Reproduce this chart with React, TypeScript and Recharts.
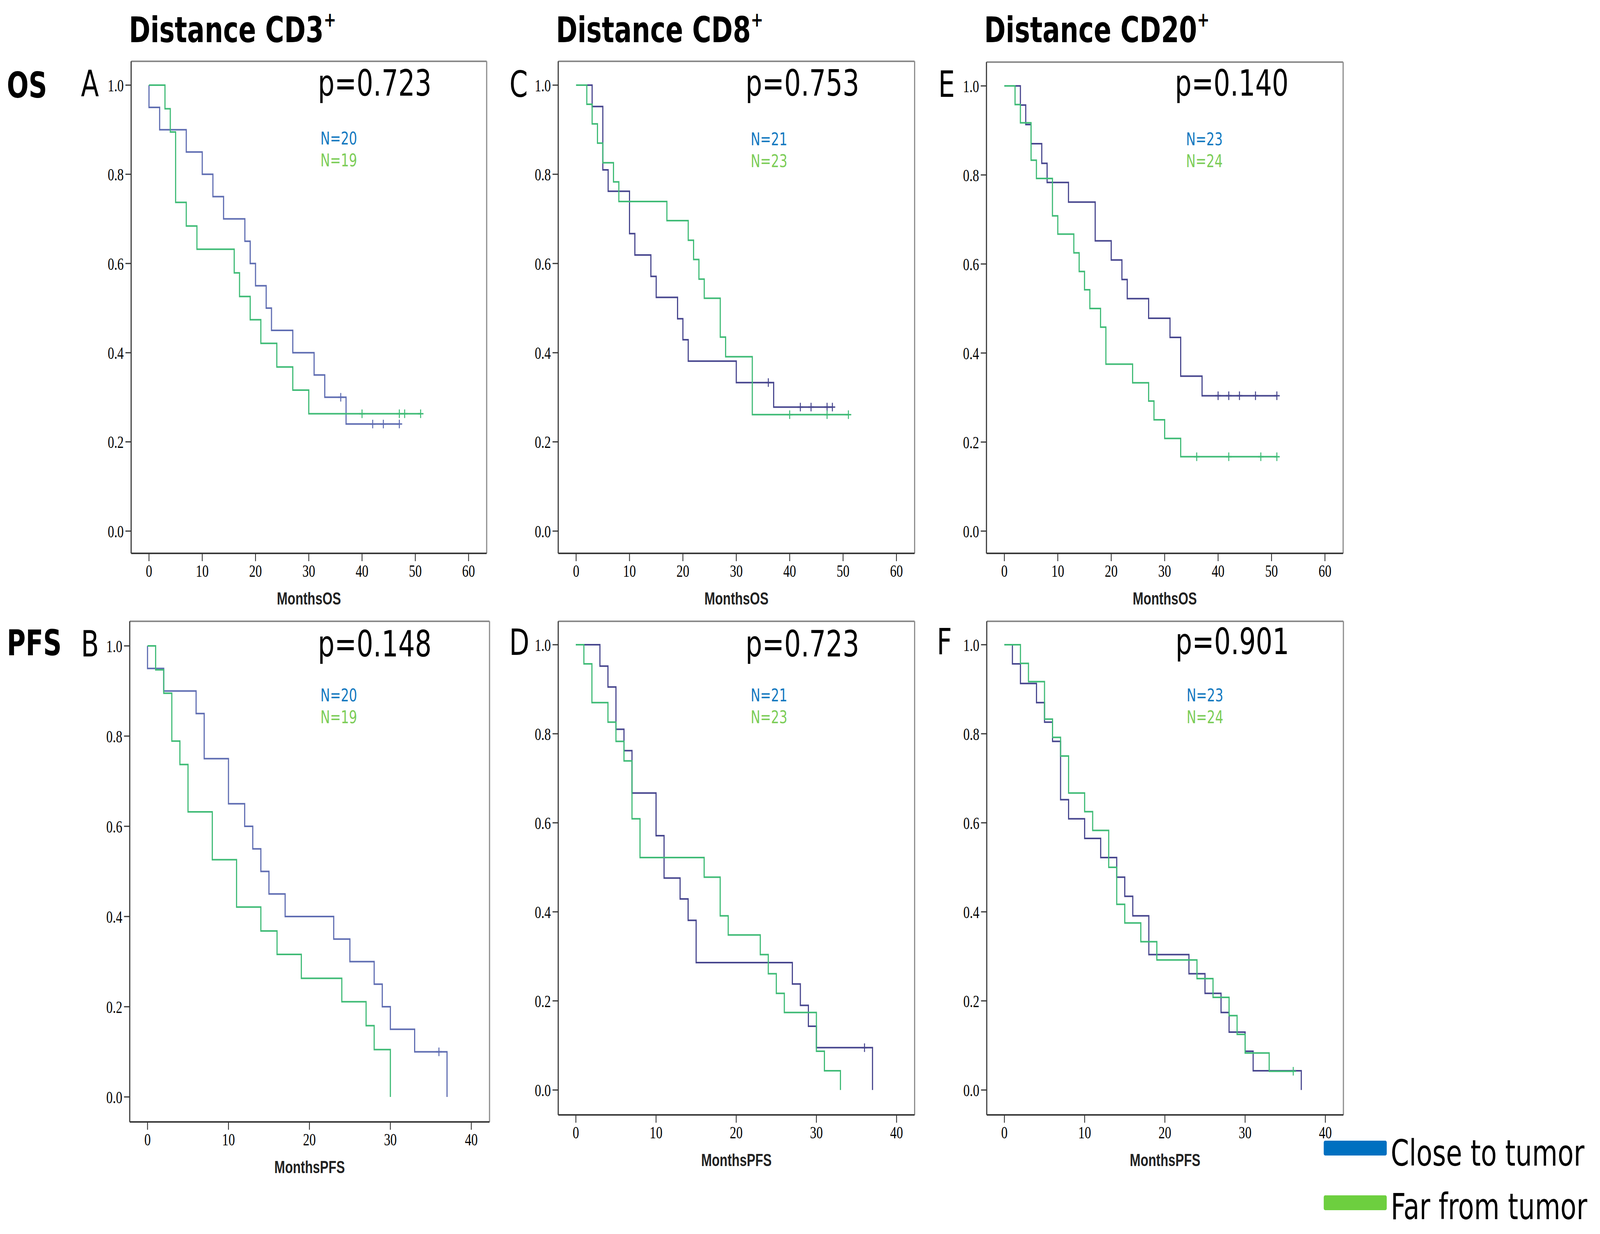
import { ComposedChart, Line, Scatter, XAxis, YAxis, ReferenceLine } from "recharts"

const CLOSE_LIGHT = "#5f6db2"
const CLOSE = "#47468e"
const FAR = "#3fbb76"

// A: OS, CD3+
const aCloseTimes = [0, 0, 2, 7, 10, 12, 14, 18, 19, 20, 22, 23, 27, 31, 33, 37]
const aCloseSurv = [1, 0.95, 0.9, 0.85, 0.8, 0.75, 0.7, 0.65, 0.6, 0.55, 0.5, 0.45, 0.4, 0.35, 0.3, 0.24]
const aCloseCens = [36, 42, 44, 47]
const aFarTimes = [0, 3, 4, 5, 7, 9, 16, 17, 19, 21, 24, 27, 30]
const aFarSurv = [1, 0.947, 0.895, 0.737, 0.684, 0.632, 0.579, 0.526, 0.474, 0.421, 0.368, 0.316, 0.263]
const aFarCens = [40, 47, 48, 51]

// C: OS, CD8+
const cCloseTimes = [0, 3, 5, 6, 10, 11, 14, 15, 19, 20, 21, 30, 37]
const cCloseSurv = [1, 0.952, 0.81, 0.762, 0.667, 0.619, 0.571, 0.524, 0.476, 0.429, 0.381, 0.333, 0.278]
const cCloseCens = [36, 42, 44, 47, 48]
const cFarTimes = [0, 2, 3, 4, 5, 7, 8, 17, 21, 22, 23, 24, 27, 28, 33]
const cFarSurv = [1, 0.957, 0.913, 0.87, 0.826, 0.783, 0.739, 0.696, 0.652, 0.609, 0.565, 0.522, 0.435, 0.391, 0.261]
const cFarCens = [40, 47, 51]

// E: OS, CD20+
const eCloseTimes = [0, 3, 4, 5, 7, 8, 12, 17, 20, 22, 23, 27, 31, 33, 37]
const eCloseSurv = [1, 0.957, 0.913, 0.87, 0.826, 0.783, 0.739, 0.652, 0.609, 0.565, 0.522, 0.478, 0.435, 0.348, 0.304]
const eCloseCens = [40, 42, 44, 47, 51]
const eFarTimes = [0, 2, 3, 5, 6, 9, 10, 13, 14, 15, 16, 18, 19, 24, 27, 28, 30, 33]
const eFarSurv = [1, 0.958, 0.917, 0.833, 0.792, 0.708, 0.667, 0.625, 0.583, 0.542, 0.5, 0.458, 0.375, 0.333, 0.292, 0.25, 0.208, 0.167]
const eFarCens = [36, 42, 48, 51]

// B: PFS, CD3+
const bCloseTimes = [0, 0, 2, 6, 7, 10, 12, 13, 14, 15, 17, 23, 25, 28, 29, 30, 33, 37]
const bCloseSurv = [1, 0.95, 0.9, 0.85, 0.75, 0.65, 0.6, 0.55, 0.5, 0.45, 0.4, 0.35, 0.3, 0.25, 0.2, 0.15, 0.1, 0]
const bCloseCens = [36]
const bFarTimes = [0, 1, 2, 3, 4, 5, 8, 11, 14, 16, 19, 24, 27, 28, 30]
const bFarSurv = [1, 0.947, 0.895, 0.789, 0.737, 0.632, 0.526, 0.421, 0.368, 0.316, 0.263, 0.211, 0.158, 0.105, 0]
const bFarCens: number[] = []

// D: PFS, CD8+
const dCloseTimes = [0, 3, 4, 5, 6, 7, 10, 11, 13, 14, 15, 27, 28, 29, 30, 37]
const dCloseSurv = [1, 0.952, 0.905, 0.81, 0.762, 0.667, 0.571, 0.476, 0.429, 0.381, 0.286, 0.238, 0.19, 0.143, 0.095, 0]
const dCloseCens = [36]
const dFarTimes = [0, 1, 2, 4, 5, 6, 7, 8, 16, 18, 19, 23, 24, 25, 26, 30, 31, 33]
const dFarSurv = [1, 0.957, 0.87, 0.826, 0.783, 0.739, 0.609, 0.522, 0.478, 0.391, 0.348, 0.304, 0.261, 0.217, 0.174, 0.087, 0.043, 0]
const dFarCens: number[] = []

// F: PFS, CD20+
const fCloseTimes = [0, 1, 2, 4, 5, 6, 7, 8, 10, 12, 14, 15, 16, 18, 23, 25, 27, 28, 30, 31, 37]
const fCloseSurv = [1, 0.957, 0.913, 0.87, 0.826, 0.783, 0.652, 0.609, 0.565, 0.522, 0.478, 0.435, 0.391, 0.304, 0.261, 0.217, 0.174, 0.13, 0.087, 0.043, 0]
const fCloseCens: number[] = []
const fFarTimes = [0, 2, 3, 5, 6, 7, 8, 10, 11, 13, 14, 15, 17, 19, 24, 26, 28, 29, 30, 33]
const fFarSurv = [1, 0.958, 0.917, 0.833, 0.792, 0.75, 0.667, 0.625, 0.583, 0.5, 0.417, 0.375, 0.333, 0.292, 0.25, 0.208, 0.167, 0.125, 0.083, 0.042]
const fFarCens = [36]

const osTicks = [0, 10, 20, 30, 40, 50, 60]
const pfsTicks = [0, 10, 20, 30, 40]
const survTicks = [0, 0.2, 0.4, 0.6, 0.8, 1.0]

const columnTitles = ["CD3", "CD8", "CD20"]
const pValues = ["p=0.723", "p=0.753", "p=0.140", "p=0.148", "p=0.723", "p=0.901"]
const closeN = ["N=20", "N=21", "N=23", "N=20", "N=21", "N=23"]
const farN = ["N=19", "N=23", "N=24", "N=19", "N=23", "N=24"]
const legendLabels = ["Close to tumor", "Far from tumor"]

function stepData(times: number[], surv: number[], cens: number[]) {
  const pts = times.map((t, i) => ({ t, s: surv[i] }))
  const last = times[times.length - 1]
  const end = Math.max(last, ...cens)
  if (end > last) pts.push({ t: end, s: surv[surv.length - 1] })
  return pts
}

function censData(times: number[], surv: number[], cens: number[]) {
  return cens.map((c) => {
    let s = surv[0]
    times.forEach((t, i) => {
      if (t <= c) s = surv[i]
    })
    return { t: c, s }
  })
}

const censorShape = (color: string) => (p: any) => (
  <g>
    <line x1={p.cx} y1={p.cy - 11} x2={p.cx} y2={p.cy + 11} stroke={color} strokeWidth={3.5} />
    <line x1={p.cx - 10} y1={p.cy} x2={p.cx + 10} y2={p.cy} stroke={color} strokeWidth={3.5} />
  </g>
)

const W = 5612
const H = 3160
const YW = 110
const XH = 140
const TM = 10
const RM = 10

interface PanelProps {
  left: number
  top: number
  width: number
  height: number
  xDomain: [number, number]
  yDomain: [number, number]
  xTicks: number[]
  xLabel: string
  closeColor: string
  close: { t: number; s: number }[]
  closeCens: { t: number; s: number }[]
  far: { t: number; s: number }[]
  farCens: { t: number; s: number }[]
}

function Panel(props: PanelProps) {
  const { left, top, width, height, xDomain, yDomain, xTicks, xLabel, closeColor } = props
  return (
    <div style={{ position: "absolute", left: left - YW, top: top - TM }}>
      <ComposedChart
        width={YW + width + RM}
        height={TM + height + XH}
        margin={{ top: TM, right: RM, left: 0, bottom: 0 }}
      >
        <XAxis
          type="number"
          dataKey="t"
          domain={xDomain}
          ticks={xTicks}
          interval={0}
          allowDataOverflow
          height={XH}
          tickSize={20}
          tickMargin={8}
          axisLine={{ stroke: "#3a3a3a", strokeWidth: 4 }}
          tickLine={{ stroke: "#333", strokeWidth: 3 }}
          tick={{ fontFamily: "Liberation Serif", fontSize: 45, fill: "#000" }}
          label={{
            value: xLabel,
            position: "insideBottom",
            offset: 9,
            fontFamily: "Liberation Sans",
            fontWeight: 700,
            fontSize: 45,
            fill: "#222",
          }}
        />
        <YAxis
          type="number"
          domain={yDomain}
          ticks={survTicks}
          interval={0}
          allowDataOverflow
          width={YW}
          tickSize={20}
          tickMargin={6}
          tickFormatter={(v: number) => v.toFixed(1)}
          axisLine={{ stroke: "#3a3a3a", strokeWidth: 4 }}
          tickLine={{ stroke: "#333", strokeWidth: 3 }}
          tick={{ fontFamily: "Liberation Serif", fontSize: 45, fill: "#000" }}
        />
        <ReferenceLine y={yDomain[1]} stroke="#8a8a8a" strokeWidth={4} />
        <ReferenceLine x={xDomain[1]} stroke="#8a8a8a" strokeWidth={4} />
        <Line
          data={props.close}
          dataKey="s"
          type="stepAfter"
          stroke={closeColor}
          strokeWidth={4}
          dot={false}
          activeDot={false}
          isAnimationActive={false}
        />
        <Line
          data={props.far}
          dataKey="s"
          type="stepAfter"
          stroke={FAR}
          strokeWidth={4}
          dot={false}
          activeDot={false}
          isAnimationActive={false}
        />
        <Scatter data={props.closeCens} dataKey="s" shape={censorShape(closeColor)} isAnimationActive={false} />
        <Scatter data={props.farCens} dataKey="s" shape={censorShape(FAR)} isAnimationActive={false} />
      </ComposedChart>
    </div>
  )
}

const colLeft = [460, 1958, 3460]
const osDomain: [number, number] = [-3.35, 63.4]
const pfsDomain: [number, number] = [-2.2, 42.25]
const osY: [number, number] = [-0.05, 1.0534]
const pfsY: [number, number] = [-0.056, 1.0526]

export default function App() {
  const panels: PanelProps[] = [
    {
      left: colLeft[0], top: 157, width: 1247, height: 1260, xDomain: osDomain, yDomain: osY, xTicks: osTicks, xLabel: "MonthsOS", closeColor: CLOSE_LIGHT,
      close: stepData(aCloseTimes, aCloseSurv, aCloseCens), closeCens: censData(aCloseTimes, aCloseSurv, aCloseCens),
      far: stepData(aFarTimes, aFarSurv, aFarCens), farCens: censData(aFarTimes, aFarSurv, aFarCens),
    },
    {
      left: colLeft[1], top: 157, width: 1250, height: 1260, xDomain: osDomain, yDomain: osY, xTicks: osTicks, xLabel: "MonthsOS", closeColor: CLOSE,
      close: stepData(cCloseTimes, cCloseSurv, cCloseCens), closeCens: censData(cCloseTimes, cCloseSurv, cCloseCens),
      far: stepData(cFarTimes, cFarSurv, cFarCens), farCens: censData(cFarTimes, cFarSurv, cFarCens),
    },
    {
      left: colLeft[2], top: 159, width: 1251, height: 1258, xDomain: osDomain, yDomain: osY, xTicks: osTicks, xLabel: "MonthsOS", closeColor: CLOSE,
      close: stepData(eCloseTimes, eCloseSurv, eCloseCens), closeCens: censData(eCloseTimes, eCloseSurv, eCloseCens),
      far: stepData(eFarTimes, eFarSurv, eFarCens), farCens: censData(eFarTimes, eFarSurv, eFarCens),
    },
    {
      left: 455, top: 1591, width: 1262, height: 1282, xDomain: pfsDomain, yDomain: [-0.0554, 1.0545], xTicks: pfsTicks, xLabel: "MonthsPFS", closeColor: CLOSE_LIGHT,
      close: stepData(bCloseTimes, bCloseSurv, bCloseCens), closeCens: censData(bCloseTimes, bCloseSurv, bCloseCens),
      far: stepData(bFarTimes, bFarSurv, bFarCens), farCens: censData(bFarTimes, bFarSurv, bFarCens),
    },
    {
      left: colLeft[1], top: 1591, width: 1250, height: 1264, xDomain: pfsDomain, yDomain: pfsY, xTicks: pfsTicks, xLabel: "MonthsPFS", closeColor: CLOSE,
      close: stepData(dCloseTimes, dCloseSurv, dCloseCens), closeCens: censData(dCloseTimes, dCloseSurv, dCloseCens),
      far: stepData(dFarTimes, dFarSurv, dFarCens), farCens: censData(dFarTimes, dFarSurv, dFarCens),
    },
    {
      left: 3461, top: 1591, width: 1251, height: 1264, xDomain: pfsDomain, yDomain: pfsY, xTicks: pfsTicks, xLabel: "MonthsPFS", closeColor: CLOSE,
      close: stepData(fCloseTimes, fCloseSurv, fCloseCens), closeCens: censData(fCloseTimes, fCloseSurv, fCloseCens),
      far: stepData(fFarTimes, fFarSurv, fFarCens), farCens: censData(fFarTimes, fFarSurv, fFarCens),
    },
  ]

  // text placements (x, baseline) per panel
  const letters = ["A", "C", "E", "B", "D", "F"]
  const letterPos = [[284, 246], [1787, 248], [3291, 248], [284, 1681], [1786, 1677], [3286, 1675]]
  const pPos = [[1115, 245], [2615, 245], [4121, 245], [1115, 1681], [2615, 1681], [4123, 1675]]
  const nPos = [[1124, 370], [2633, 372], [4160, 372], [1124, 1796], [2633, 1796], [4162, 1796]]
  const sans = "DejaVu Sans"

  // the browser may hand us a smaller css viewport than 5612x3160: stretch the figure to fill it
  const vw = typeof window !== "undefined" ? window.innerWidth : W
  const vh = typeof window !== "undefined" ? window.innerHeight : H
  const sx = Math.min(1, vw / W)
  const sy = Math.min(1, vh / H)

  return (
    <div
      style={{
        position: "absolute",
        left: 0,
        top: 0,
        width: W * sx,
        height: H * sy,
        overflow: "hidden",
        background: "#fff",
      }}
    >
      <div
        style={{
          position: "absolute",
          left: 0,
          top: 0,
          width: W,
          height: H,
          transform: `scale(${sx}, ${sy})`,
          transformOrigin: "0 0",
          background: "#fff",
        }}
      >
        {panels.map((p, i) => (
          <Panel key={i} {...p} />
        ))}
        <svg width={W} height={H} style={{ position: "absolute", left: 0, top: 0, pointerEvents: "none" }}>
          {columnTitles.map((t, i) => (
            <text key={t} x={colLeft[i] - 8} y={108} fontFamily={sans} fontWeight={700} fontSize={91} fill="#000">
              {"Distance " + t}
              <tspan dy={-40} fontSize={52}>+</tspan>
            </text>
          ))}
          <text x={24} y={250} fontFamily={sans} fontWeight={700} fontSize={90} fill="#000">OS</text>
          <text x={24} y={1678} fontFamily={sans} fontWeight={700} fontSize={90} fill="#000">PFS</text>
          {letters.map((l, i) => (
            <text key={l} x={letterPos[i][0]} y={letterPos[i][1]} fontFamily={sans} fontSize={92} fill="#000">{l}</text>
          ))}
          {pValues.map((p, i) => (
            <text key={i} x={pPos[i][0]} y={pPos[i][1]} fontFamily={sans} fontSize={92} fill="#000">{p}</text>
          ))}
          {closeN.map((n, i) => (
            <text key={"c" + i} x={nPos[i][0]} y={nPos[i][1]} fontFamily={sans} fontSize={45} fill="#1479c0">{n}</text>
          ))}
          {farN.map((n, i) => (
            <text key={"f" + i} x={nPos[i][0]} y={nPos[i][1] + 56} fontFamily={sans} fontSize={45} fill="#7ccd58">{n}</text>
          ))}
          <rect x={4643} y={2921} width={221} height={38} rx={5} fill="#0070c0" />
          <rect x={4643} y={3061} width={221} height={38} rx={5} fill="#6dcf3f" />
          <text x={4878} y={2985} fontFamily={sans} fontSize={92} fill="#000">{legendLabels[0]}</text>
          <text x={4878} y={3122} fontFamily={sans} fontSize={92} fill="#000">{legendLabels[1]}</text>
        </svg>
      </div>
    </div>
  )
}
